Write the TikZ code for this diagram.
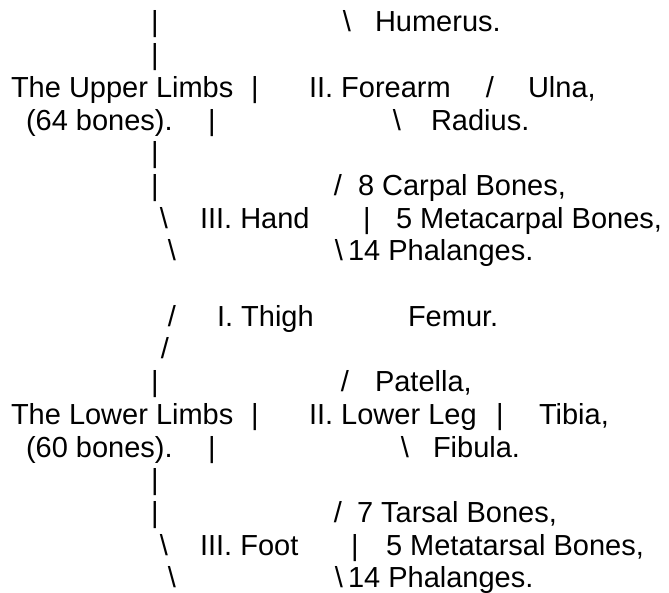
\documentclass[tikz,border=0pt]{standalone}
\usepackage{fontspec}
\setmainfont{Liberation Sans}
\begin{document}
\begin{tikzpicture}[x=1pt,y=1pt,
  txt/.style={anchor=base west,inner sep=0pt,outer sep=0pt,font=\fontsize{29}{29}\selectfont},
  sym/.style={anchor=base,inner sep=0pt,outer sep=0pt,font=\fontsize{29}{29}\selectfont}]
\useasboundingbox (0,0) rectangle (669,593);
% line 1
\node[sym] (a1) at (155,561) {|};
\node[sym] (a2) at (347,561) {\textbackslash};
\node[txt] (a3) at (375,561) {Humerus.};
% line 2
\node[sym] (b1) at (155,528.3) {|};
% line 3
\node[txt] (c1) at (11,495.6) {The Upper Limbs};
\node[sym] (c2) at (255,495.6) {|};
\node[txt] (c3) at (309,495.6) {II. Forearm};
\node[sym] (c4) at (490,495.6) {/};
\node[txt] (c5) at (528,495.6) {Ulna,};
% line 4
\node[txt] (d1) at (26,462.9) {(64 bones).};
\node[sym] (d2) at (212,462.9) {|};
\node[sym] (d3) at (397,462.9) {\textbackslash};
\node[txt] (d4) at (431,462.9) {Radius.};
% line 5
\node[sym] (e1) at (155,430.2) {|};
% line 6
\node[sym] (f1) at (155,397.5) {|};
\node[sym] (f2) at (338,397.5) {/};
\node[txt] (f3) at (358,397.5) {8 Carpal Bones,};
% line 7
\node[sym] (g1) at (164,364.8) {\textbackslash};
\node[txt] (g2) at (200,364.8) {III. Hand};
\node[sym] (g3) at (367,364.8) {|};
\node[txt] (g4) at (396,364.8) {5 Metacarpal Bones,};
% line 8
\node[sym] (h1) at (172,332.1) {\textbackslash};
\node[sym] (h2) at (339,332.1) {\textbackslash};
\node[txt] (h3) at (348,332.1) {14 Phalanges.};
% line 10
\node[sym] (i1) at (172,266.7) {/};
\node[txt] (i2) at (217,266.7) {I. Thigh};
\node[txt] (i3) at (408,266.7) {Femur.};
% line 11
\node[sym] (j1) at (165,234) {/};
% line 12
\node[sym] (k1) at (155,201.3) {|};
\node[sym] (k2) at (345,201.3) {/};
\node[txt] (k3) at (375,201.3) {Patella,};
% line 13
\node[txt] (l1) at (11,168.6) {The Lower Limbs};
\node[sym] (l2) at (255,168.6) {|};
\node[txt] (l3) at (309,168.6) {II. Lower Leg};
\node[sym] (l4) at (500,168.6) {|};
\node[txt] (l5) at (539,168.6) {Tibia,};
% line 14
\node[txt] (m1) at (26,135.9) {(60 bones).};
\node[sym] (m2) at (212,135.9) {|};
\node[sym] (m3) at (405,135.9) {\textbackslash};
\node[txt] (m4) at (433,135.9) {Fibula.};
% line 15
\node[sym] (n1) at (155,103.2) {|};
% line 16
\node[sym] (o1) at (155,70.5) {|};
\node[sym] (o2) at (338,70.5) {/};
\node[txt] (o3) at (357,70.5) {7 Tarsal Bones,};
% line 17
\node[sym] (p1) at (164,37.8) {\textbackslash};
\node[txt] (p2) at (200,37.8) {III. Foot};
\node[sym] (p3) at (355,37.8) {|};
\node[txt] (p4) at (386,37.8) {5 Metatarsal Bones,};
% line 18
\node[sym] (q1) at (172,5.1) {\textbackslash};
\node[sym] (q2) at (339,5.1) {\textbackslash};
\node[txt] (q3) at (348,5.1) {14 Phalanges.};
\end{tikzpicture}
\end{document}
